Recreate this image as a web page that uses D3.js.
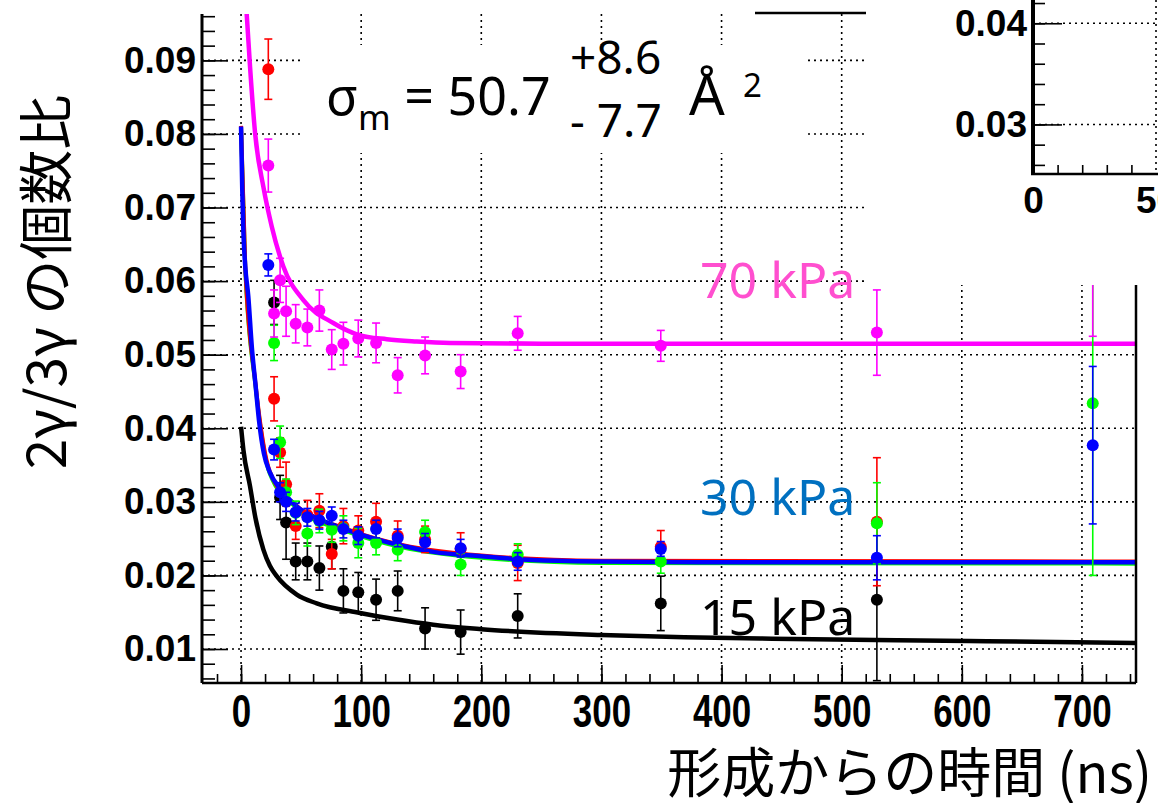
<!DOCTYPE html>
<html>
<head>
<meta charset="utf-8">
<script src="https://cdn.jsdelivr.net/npm/d3@7"></script>
<style>
  body { margin: 0; background: #fff; }
  svg { display: block; }
</style>
</head>
<body>
<div id="chart"></div>
<script>
// time bins (ns)
const times = [22.7, 27.5, 32.5, 37.5, 45.5, 55.2, 65.2, 75.5, 85.2, 97.6, 112.4, 130.4, 153.2, 182.8, 230.3, 349.4, 529.3, 709];

// 2gamma/3gamma ratio and errors per run (null = no point)
const blackVal = [null, 0.0571, 0.0306, 0.0272, 0.0219, 0.0219, 0.0210, 0.0239, 0.0179, 0.0177, 0.0167, 0.0179, 0.0128, 0.0123, 0.0145, 0.0162, 0.0167, null];
const blackErr = [null, 0.0030, 0.0030, 0.0050, 0.0025, 0.0025, 0.0030, 0.0030, 0.0030, 0.0027, 0.0028, 0.0027, 0.0028, 0.0030, 0.0030, 0.0037, 0.0110, null];
const redVal = [0.0888, 0.0440, 0.0367, 0.0324, 0.0267, 0.0282, 0.0288, 0.0229, 0.0267, 0.0261, 0.0273, 0.0254, 0.0249, 0.0236, 0.0217, 0.0239, 0.0273, null];
const redErr = [0.0041, 0.0030, 0.0020, 0.0030, 0.0018, 0.0020, 0.0023, 0.0020, 0.0024, 0.0020, 0.0025, 0.0020, 0.0018, 0.0022, 0.0024, 0.0022, 0.0087, null];
const greenVal = [null, 0.0516, 0.0381, 0.0313, 0.0285, 0.0257, 0.0274, 0.0262, 0.0264, 0.0244, 0.0244, 0.0235, 0.0259, 0.0215, 0.0228, 0.0219, 0.0271, 0.0434];
const greenErr = [null, 0.0024, 0.0022, 0.0018, 0.0016, 0.0017, 0.0016, 0.0017, 0.0017, 0.0020, 0.0016, 0.0015, 0.0016, 0.0015, 0.0015, 0.0016, 0.0055, 0.0234];
const blueVal = [0.0622, 0.0371, 0.0313, 0.0300, 0.0286, 0.0279, 0.0275, 0.0281, 0.0263, 0.0254, 0.0263, 0.0251, 0.0245, 0.0237, 0.0219, 0.0236, 0.0224, 0.0377];
const blueErr = [0.0015, 0.0014, 0.0013, 0.0013, 0.0012, 0.0012, 0.0012, 0.0012, 0.0012, 0.0012, 0.0012, 0.0012, 0.0012, 0.0012, 0.0012, 0.0010, 0.0030, 0.0107];
const magentaVal = [0.0757, 0.0556, 0.0601, 0.0559, 0.0542, 0.0537, 0.0560, 0.0507, 0.0515, 0.0522, 0.0516, 0.0472, 0.0499, 0.0477, 0.0529, 0.0512, 0.0530, 0.0660];
const magentaErr = [0.0036, 0.0032, 0.0030, 0.0034, 0.0026, 0.0025, 0.0028, 0.0027, 0.0029, 0.0025, 0.0027, 0.0024, 0.0025, 0.0023, 0.0023, 0.0021, 0.0058, 0.0135];

// fitted curves: [time, ratio]
const curve15 = [[0, 0.0402], [2, 0.0370], [7.5, 0.0321], [12, 0.0278], [18.6, 0.0235], [24, 0.0213], [29.7, 0.0199], [46.4, 0.0174], [63, 0.0162], [99, 0.0149], [130, 0.0140], [160, 0.0133], [200, 0.0127], [300, 0.0119], [369, 0.0116], [442, 0.0114], [606, 0.0111], [745, 0.0108]];
const curve30 = [[0, 0.0810], [1, 0.0725], [2, 0.0665], [3.5, 0.0620], [6, 0.0580], [9, 0.0510], [12, 0.0460], [15, 0.0410], [19, 0.0366], [24, 0.0340], [32.5, 0.0318], [46, 0.0294], [66, 0.0276], [88, 0.0262], [113, 0.0249], [135, 0.0240], [160, 0.0232], [200, 0.0226], [243, 0.0221], [300, 0.0219], [400, 0.0218], [745, 0.0218]];
const curve30red = [[0, 0.0811], [3.5, 0.0621], [12, 0.0461], [24, 0.0341], [46, 0.0295], [88, 0.0263], [135, 0.0241], [200, 0.0227], [300, 0.0220], [745, 0.0219]];
const curve30green = [[0, 0.0808], [3.5, 0.0618], [12, 0.0458], [24, 0.0338], [46, 0.0292], [88, 0.0260], [135, 0.0238], [200, 0.0224], [300, 0.0217], [745, 0.0216]];
const curve70 = [[3, 0.1000], [4.7, 0.0963], [7.5, 0.0891], [11.7, 0.0801], [18.6, 0.0728], [25.6, 0.0674], [35.2, 0.0620], [51.9, 0.0574], [76.8, 0.0543], [97.6, 0.0527], [121.3, 0.0521], [146.2, 0.0518], [174, 0.0516], [250, 0.0515], [745, 0.0515]];

const xTicks = [0, 100, 200, 300, 400, 500, 600, 700];
const yTicks = [0.01, 0.02, 0.03, 0.04, 0.05, 0.06, 0.07, 0.08, 0.09];
const insetXTicks = [0, 50];
const insetYTicks = [0.03, 0.04];

const pressureLabels = ['70 kPa', '30 kPa', '15 kPa'];

let width = 1158, height = 803;
let plotL = 202, plotR = 1136, plotT = 14, plotB = 683;

let svg = d3.select('#chart').append('svg')
  .attr('width', width)
  .attr('height', height)
  .style('background', '#fff');

let x = d3.scaleLinear().domain([-32.5, 745]).range([plotL, plotR]);
let y = d3.scaleLinear().domain([0.00538, 0.0963]).range([plotB, plotT]);

svg.append('clipPath').attr('id', 'plotClip')
  .append('rect')
  .attr('x', plotL).attr('y', plotT)
  .attr('width', plotR - plotL).attr('height', plotB - plotT);

// dotted grid
let grid = svg.append('g').attr('stroke', '#000').attr('stroke-width', 1.6).attr('stroke-dasharray', '2,4');
grid.selectAll('line.gx').data(xTicks).enter().append('line')
  .attr('x1', function (d) { return x(d); }).attr('x2', function (d) { return x(d); })
  .attr('y1', plotT).attr('y2', plotB);
grid.selectAll('line.gy').data(yTicks).enter().append('line')
  .attr('y1', function (d) { return y(d); }).attr('y2', function (d) { return y(d); })
  .attr('x1', plotL).attr('x2', plotR);

// white box behind the sigma text
svg.append('rect').attr('x', 302).attr('y', 45).attr('width', 503).attr('height', 108).attr('fill', '#fff');

let plot = svg.append('g').attr('clip-path', 'url(#plotClip)');

let line = d3.line()
  .x(function (d) { return x(d[0]); })
  .y(function (d) { return y(d[1]); })
  .curve(d3.curveMonotoneX);

function drawCurve(pts, color, w) {
  plot.append('path').datum(pts)
    .attr('d', line)
    .attr('fill', 'none')
    .attr('stroke', color)
    .attr('stroke-width', w);
}

function drawSeries(vals, errs, color) {
  let pts = times.map(function (t, i) { return {t: t, v: vals[i], e: errs[i]}; })
    .filter(function (d) { return d.v !== null; });
  let g = plot.append('g');
  let bars = g.selectAll('g').data(pts).enter().append('g')
    .attr('stroke', color).attr('stroke-width', 1.6);
  bars.append('line')
    .attr('x1', function (d) { return x(d.t); }).attr('x2', function (d) { return x(d.t); })
    .attr('y1', function (d) { return y(d.v - d.e); }).attr('y2', function (d) { return y(d.v + d.e); });
  bars.append('line')
    .attr('x1', function (d) { return x(d.t) - 4; }).attr('x2', function (d) { return x(d.t) + 4; })
    .attr('y1', function (d) { return y(d.v + d.e); }).attr('y2', function (d) { return y(d.v + d.e); });
  bars.append('line')
    .attr('x1', function (d) { return x(d.t) - 4; }).attr('x2', function (d) { return x(d.t) + 4; })
    .attr('y1', function (d) { return y(d.v - d.e); }).attr('y2', function (d) { return y(d.v - d.e); });
  g.selectAll('circle').data(pts).enter().append('circle')
    .attr('cx', function (d) { return x(d.t); })
    .attr('cy', function (d) { return y(d.v); })
    .attr('r', 6)
    .attr('fill', color);
}

drawCurve(curve15, '#000', 4.5);
drawCurve(curve30green, '#00ff00', 4);
drawCurve(curve30red, '#ff0000', 4);
drawCurve(curve30, '#0000ff', 4.5);
drawCurve(curve70, '#ff00ff', 4.5);

drawSeries(blackVal, blackErr, '#000');
drawSeries(redVal, redErr, '#ff0000');
drawSeries(greenVal, greenErr, '#00ff00');
drawSeries(blueVal, blueErr, '#0000ff');
drawSeries(magentaVal, magentaErr, '#ff00ff');

// axes
let yMinor = d3.range(0.006, 0.0961, 0.002);
let xMinor = d3.range(-20, 745, 20);

svg.append('g').attr('transform', 'translate(' + plotL + ',0)')
  .call(d3.axisLeft(y).tickValues(yMinor).tickSize(-13).tickFormat(''))
  .call(function (g) { g.select('.domain').remove(); })
  .selectAll('line').attr('stroke-width', 1.6);

let yAxis = svg.append('g').attr('transform', 'translate(' + plotL + ',0)')
  .call(d3.axisLeft(y).tickValues(yTicks).tickSize(-26).tickPadding(6).tickFormat(d3.format('.2f')));
yAxis.select('.domain').attr('stroke-width', 3).attr('d', 'M0,' + plotT + 'V' + plotB);
yAxis.selectAll('line').attr('stroke-width', 1.6);
yAxis.selectAll('text')
  .attr('font-family', 'Liberation Sans, Arial, sans-serif')
  .attr('font-weight', 'bold')
  .attr('font-size', 37)
  .attr('fill', '#000');

svg.append('g').attr('transform', 'translate(0,' + plotB + ')')
  .call(d3.axisBottom(x).tickValues(xMinor).tickSize(-9).tickFormat(''))
  .call(function (g) { g.select('.domain').remove(); })
  .selectAll('line').attr('stroke-width', 1.6);

let xAxis = svg.append('g').attr('transform', 'translate(0,' + plotB + ')')
  .call(d3.axisBottom(x).tickValues(xTicks).tickSize(-18).tickFormat(d3.format('d')));
xAxis.select('.domain').attr('stroke-width', 2.5).attr('d', 'M' + plotL + ',0H' + plotR);
xAxis.selectAll('line').attr('stroke-width', 1.6);
xAxis.selectAll('text')
  .attr('font-family', 'Liberation Sans, Arial, sans-serif')
  .attr('font-weight', 'bold')
  .attr('font-size', 46)
  .attr('fill', '#000')
  .attr('y', 44).attr('dy', 0)
  .attr('transform', 'scale(0.76,1)');

// right frame
svg.append('line').attr('x1', plotR).attr('x2', plotR).attr('y1', plotT).attr('y2', plotB)
  .attr('stroke', '#000').attr('stroke-width', 2.5);

// axis titles
svg.append('text')
  .attr('transform', 'translate(47,282) rotate(-90)')
  .attr('text-anchor', 'middle')
  .attr('dy', '0.35em')
  .attr('font-family', 'Noto Sans CJK JP, sans-serif')
  .attr('font-size', 55)
  .text('2γ/3γ の個数比');

svg.append('text')
  .attr('x', 1152).attr('y', 793)
  .attr('text-anchor', 'end')
  .attr('font-family', 'Noto Sans CJK JP, sans-serif')
  .attr('font-size', 54)
  .text('形成からの時間 (ns)');

// sigma annotation
let sig = svg.append('g').attr('font-family', 'Noto Sans, Open Sans, sans-serif').attr('fill', '#000');
let s1 = sig.append('text').attr('x', 326).attr('y', 115).attr('font-size', 52);
s1.append('tspan').text('σ');
s1.append('tspan').attr('font-size', 35).attr('dy', 15).text('m');
s1.append('tspan').attr('dy', -15).text(' = 50.7');
sig.append('text').attr('x', 570).attr('y', 74).attr('font-size', 46).text('+8.6');
sig.append('text').attr('x', 570).attr('y', 137).attr('font-size', 46).text('- 7.7');
sig.append('text').attr('x', 689).attr('y', 115).attr('font-size', 56).text('Å');
sig.append('text').attr('x', 743).attr('y', 97).attr('font-size', 33).text('2');

// pressure labels
let labelColors = ['#ff4fcf', '#0070c0', '#000'];
let labelY = [298, 515, 635];
svg.selectAll('text.plab').data(pressureLabels).enter().append('text')
  .attr('class', 'plab')
  .attr('x', 700)
  .attr('y', function (d, i) { return labelY[i]; })
  .attr('font-family', 'Noto Sans, Open Sans, sans-serif')
  .attr('font-size', 50)
  .attr('fill', function (d, i) { return labelColors[i]; })
  .text(function (d) { return d; });

// stray frame line at top
svg.append('line').attr('x1', 755).attr('x2', 867).attr('y1', 13).attr('y2', 13)
  .attr('stroke', '#000').attr('stroke-width', 2.5);

// inset pad (covers top-right corner)
svg.append('rect').attr('x', 866).attr('y', 0).attr('width', 292).attr('height', 285).attr('fill', '#fff');

let ix = d3.scaleLinear().domain([0, 50]).range([1033, 1156]);
let iy = d3.scaleLinear().domain([0.0251, 0.0423]).range([174, 0]);

let igrid = svg.append('g').attr('stroke', '#000').attr('stroke-width', 1.6).attr('stroke-dasharray', '2,4');
igrid.selectAll('line.v').data(insetXTicks.slice(1)).enter().append('line')
  .attr('x1', function (d) { return ix(d); }).attr('x2', function (d) { return ix(d); })
  .attr('y1', 0).attr('y2', 174);
igrid.selectAll('line.h').data(insetYTicks).enter().append('line')
  .attr('y1', function (d) { return iy(d); }).attr('y2', function (d) { return iy(d); })
  .attr('x1', 1033).attr('x2', 1158);

svg.append('g').attr('transform', 'translate(1033,0)')
  .call(d3.axisLeft(iy).tickValues(d3.range(0.026, 0.0423, 0.002)).tickSize(-12).tickFormat(''))
  .call(function (g) { g.select('.domain').remove(); })
  .selectAll('line').attr('stroke-width', 1.6);
let iyAxis = svg.append('g').attr('transform', 'translate(1033,0)')
  .call(d3.axisLeft(iy).tickValues(insetYTicks).tickSize(-29).tickPadding(6).tickFormat(d3.format('.2f')));
iyAxis.select('.domain').attr('stroke-width', 4).attr('d', 'M0,0V174');
iyAxis.selectAll('line').attr('stroke-width', 1.6);
iyAxis.selectAll('text')
  .attr('font-family', 'Liberation Sans, Arial, sans-serif')
  .attr('font-weight', 'bold')
  .attr('font-size', 37)
  .attr('fill', '#000');

svg.append('g').attr('transform', 'translate(0,174)')
  .call(d3.axisBottom(ix).tickValues([10, 20, 30, 40]).tickSize(-9).tickFormat(''))
  .call(function (g) { g.select('.domain').remove(); })
  .selectAll('line').attr('stroke-width', 1.6);
let ixAxis = svg.append('g').attr('transform', 'translate(0,174)')
  .call(d3.axisBottom(ix).tickValues(insetXTicks).tickSize(0).tickFormat(d3.format('d')));
ixAxis.select('.domain').attr('stroke-width', 2.5).attr('d', 'M1031,0H1158');
ixAxis.selectAll('text')
  .attr('font-family', 'Liberation Sans, Arial, sans-serif')
  .attr('font-weight', 'bold')
  .attr('font-size', 37)
  .attr('fill', '#000')
  .attr('y', 39).attr('dy', 0);
</script>
</body>
</html>
